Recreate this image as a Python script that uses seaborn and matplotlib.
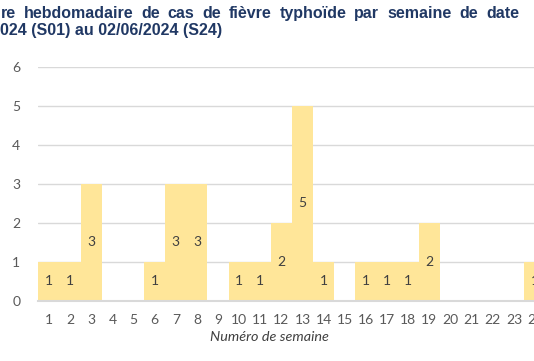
import pandas as pd
import seaborn as sns
import matplotlib.pyplot as plt

# Weekly counts, weeks S01..S24
weeks = list(range(1, 25))
cases = [1, 1, 3, 0, 0, 1, 3, 3, 0, 1, 1, 2, 5, 1, 0, 1, 1, 1, 2, 0, 0, 0, 0, 1]
title_line1 = "re hebdomadaire de cas de fièvre typhoïde par semaine de date"
title_line2 = "024 (S01) au 02/06/2024 (S24)"
x_label = "Numéro de semaine"

df = pd.DataFrame({'Semaine': weeks, 'Cas': cases})

sns.set_style('white')
plt.rcParams['font.family'] = ['Lato', 'DejaVu Sans']

W, H = 534, 361
fig = plt.figure(figsize=(W / 100, H / 100), dpi=100)
ax = fig.add_axes([38.4 / W, 60 / H, 507.2 / W, 234.5 / H])

sns.barplot(data=df, x='Semaine', y='Cas', order=weeks, color='#FFE699',
            saturation=1, width=1.0, linewidth=0, ax=ax, zorder=2)

# Labels inside bars (centered), skip zeros
for i, v in enumerate(cases):
    if v > 0:
        ax.text(i, v / 2, str(v), ha='center', va='center', fontsize=10, color='#404040', zorder=3)

ax.set_xlim(-0.5, len(weeks) - 0.5)
ax.set_ylim(0, 6)
ax.set_yticks(range(0, 7))
ax.yaxis.grid(True, color='#D9D9D9', linewidth=1, zorder=0)
ax.tick_params(axis='both', length=0, labelsize=10, labelcolor='#595959')
ax.tick_params(axis='y', pad=13)
ax.tick_params(axis='x', pad=9)
for s in ['top', 'right', 'left']:
    ax.spines[s].set_visible(False)
ax.spines['bottom'].set_color('#D9D9D9')
ax.spines['bottom'].set_linewidth(1.5)
ax.spines['bottom'].set_zorder(4)

ax.set_ylabel('')
ax.set_xlabel(x_label, fontsize=10.4, style='italic', color='#404040')
ax.xaxis.set_label_coords((269.5 - 38.4) / 507.2, -0.13)

# Title: first line justified across the width, second line left aligned
tcol = '#203864'
tfont = dict(fontsize=11.5, fontweight='bold', color=tcol, family=['Liberation Sans', 'DejaVu Sans'])
renderer = fig.canvas.get_renderer()
words = title_line1.split(' ')
objs = [fig.text(0, 1 - 18 / H, w, ha='left', va='baseline', **tfont) for w in words]
widths = [o.get_window_extent(renderer).width for o in objs]
x0, x1 = 0.5, 519
gap = (x1 - x0 - sum(widths)) / (len(words) - 1)
x = x0
for o, w in zip(objs, widths):
    o.set_x(x / W)
    x += w + gap
fig.text(0.5 / W, 1 - 35 / H, title_line2, ha='left', va='baseline', **tfont)

fig.savefig('out.png', dpi=100)
